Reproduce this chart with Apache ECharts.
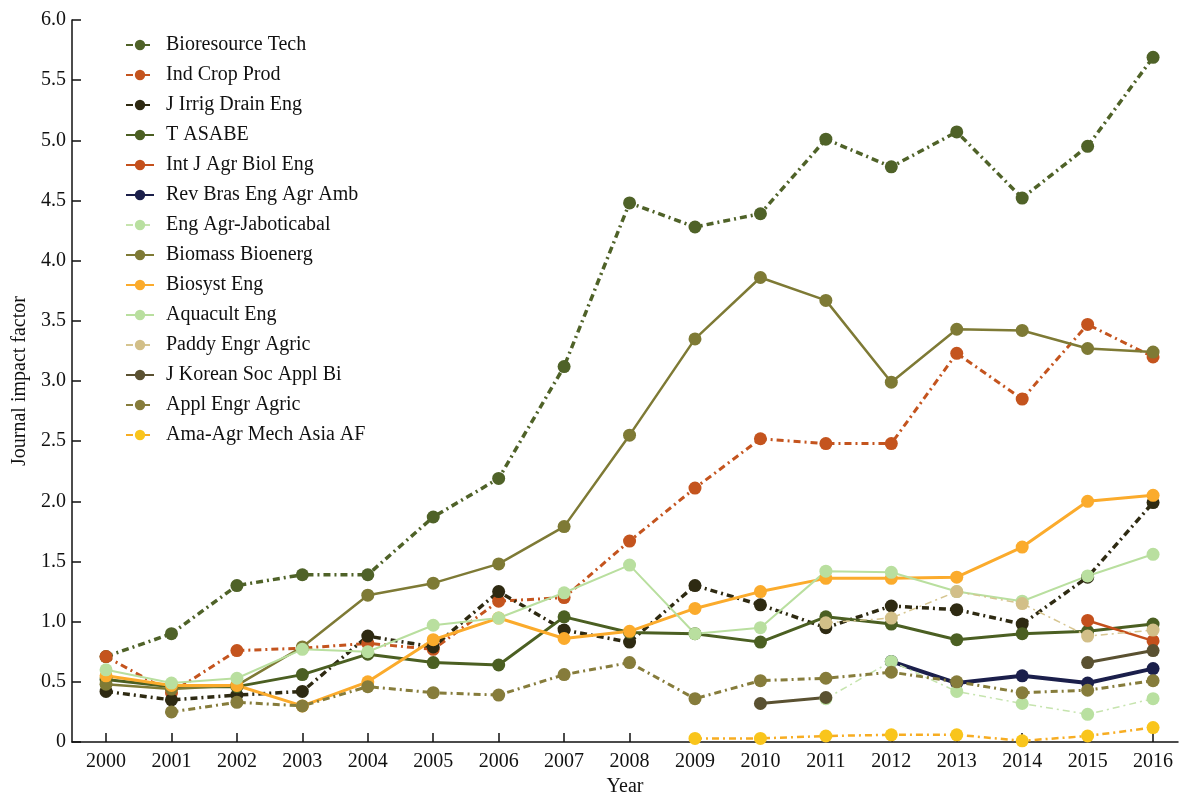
<!DOCTYPE html>
<html><head><meta charset="utf-8">
<script src="https://cdn.jsdelivr.net/npm/echarts@6/dist/echarts.min.js"></script>
<style>html,body{margin:0;padding:0;background:#fff}#c{width:1180px;height:796px}</style>
</head><body><div id="c"></div>
<script>
const years = [2000,2001,2002,2003,2004,2005,2006,2007,2008,2009,2010,2011,2012,2013,2014,2015,2016];
const yTicks = [0,0.5,1,1.5,2,2.5,3,3.5,4,4.5,5,5.5,6];
const bioresourceTech = [0.71,0.90,1.30,1.39,1.39,1.87,2.19,3.12,4.48,4.28,4.39,5.01,4.78,5.07,4.52,4.95,5.69];
const indCropProd     = [0.71,0.41,0.76,0.78,0.82,0.77,1.17,1.20,1.67,2.11,2.52,2.48,2.48,3.23,2.85,3.47,3.20];
const jIrrigDrainEng  = [0.42,0.35,0.39,0.42,0.88,0.79,1.25,0.93,0.83,1.30,1.14,0.95,1.13,1.10,0.98,1.37,1.99];
const tAsabe          = [0.52,0.46,0.46,0.56,0.73,0.66,0.64,1.04,0.91,0.90,0.83,1.04,0.98,0.85,0.90,0.92,0.98];
const intJAgrBiolEng  = [null,null,null,null,null,null,null,null,null,null,null,null,null,null,null,1.01,0.84];
const revBrasEngAgr   = [null,null,null,null,null,null,null,null,null,null,null,null,0.67,0.49,0.55,0.49,0.61];
const engAgrJabot     = [null,null,null,null,null,null,null,null,null,null,null,0.36,0.67,0.42,0.32,0.23,0.36];
const biomassBioenerg = [0.48,0.44,0.47,0.79,1.22,1.32,1.48,1.79,2.55,3.35,3.86,3.67,2.99,3.43,3.42,3.27,3.24];
const biosystEng      = [0.55,0.47,0.47,0.30,0.50,0.85,1.03,0.86,0.92,1.11,1.25,1.36,1.36,1.37,1.62,2.00,2.05];
const aquacultEng     = [0.60,0.49,0.53,0.77,0.75,0.97,1.03,1.24,1.47,0.90,0.95,1.42,1.41,1.25,1.17,1.38,1.56];
const paddyEngrAgric  = [null,null,null,null,null,null,null,null,null,null,null,0.99,1.03,1.25,1.15,0.88,0.93];
const jKoreanSoc      = [null,null,null,null,null,null,null,null,null,null,0.32,0.37,null,null,null,0.66,0.76];
const applEngrAgric   = [null,0.25,0.33,0.30,0.46,0.41,0.39,0.56,0.66,0.36,0.51,0.53,0.58,0.50,0.41,0.43,0.51];
const amaAgrMech      = [null,null,null,null,null,null,null,null,null,0.03,0.03,0.05,0.06,0.06,0.01,0.05,0.12];

const DD = [7,4,2,4];
const defs = [
  ['Bioresource Tech', bioresourceTech, '#4f6228', '#4f6228', 3.5, DD],
  ['Ind Crop Prod', indCropProd, '#c4541e', '#c4541e', 3, DD],
  ['J Irrig Drain Eng', jIrrigDrainEng, '#2e2a12', '#2e2a12', 3.5, DD],
  ['T ASABE', tAsabe, '#4b5f22', '#4b5f22', 3, 'solid'],
  ['Int J Agr Biol Eng', intJAgrBiolEng, '#c4501c', '#c4501c', 2.5, 'solid'],
  ['Rev Bras Eng Agr Amb', revBrasEngAgr, '#1b1f4b', '#1b1f4b', 4, 'solid'],
  ['Eng Agr-Jaboticabal', engAgrJabot, '#c6e4ae', '#b9e0a0', 1.5, DD],
  ['Biomass Bioenerg', biomassBioenerg, '#7e7a35', '#7e7a35', 2.5, 'solid'],
  ['Biosyst Eng', biosystEng, '#fbab2c', '#fbab2c', 3, 'solid'],
  ['Aquacult Eng', aquacultEng, '#b9df9f', '#b9df9f', 2, 'solid'],
  ['Paddy Engr Agric', paddyEngrAgric, '#d6c590', '#d2bf88', 1.5, DD],
  ['J Korean Soc Appl Bi', jKoreanSoc, '#5a5131', '#5a5131', 3, 'solid'],
  ['Appl Engr Agric', applEngrAgric, '#867c3b', '#867c3b', 3, DD],
  ['Ama-Agr Mech Asia AF', amaAgrMech, '#f7ad22', '#f9c51c', 2.5, DD]
];

const series = defs.map(([name, vals, lc, pc, w, t]) => ({
  name, type: 'line',
  data: years.map((y, i) => [y, vals[i] == null ? '-' : vals[i]]),
  symbol: 'circle', symbolSize: 13, showAllSymbol: true,
  connectNulls: false,
  lineStyle: { color: lc, width: w, type: t },
  itemStyle: { color: pc },
  emphasis: { disabled: true },
  animation: false
}));

const xMin = 1999.48, xMax = 2016.381;
const chart = echarts.init(document.getElementById('c'));
chart.setOption({
  animation: false,
  textStyle: { fontFamily: 'Liberation Serif' },
  grid: { left: 72, right: 2, top: 20, bottom: 54, containLabel: false, outerBoundsMode: 'none' },
  legend: {
    orient: 'vertical', left: 120, top: 30,
    itemWidth: 28, itemHeight: 13, itemGap: 10,
    textStyle: { fontFamily: 'Liberation Serif', fontSize: 20, color: '#111', lineHeight: 20, padding: [0, 0, 0, 7] },
    data: defs.map(d => d[0])
  },
  xAxis: {
    type: 'value', min: xMin, max: xMax,
    name: 'Year', nameLocation: 'middle', nameGap: 35,
    nameTextStyle: { fontFamily: 'Liberation Serif', fontSize: 20, color: '#111' },
    axisLine: { show: true, lineStyle: { color: '#111', width: 1.5 } },
    axisTick: { show: true, inside: true, length: 9, lineStyle: { color: '#111', width: 1.5 }, customValues: years },
    axisLabel: { customValues: years, formatter: v => String(Math.round(v)), fontFamily: 'Liberation Serif', fontSize: 20, color: '#111', margin: 10 },
    splitLine: { show: false }
  },
  yAxis: {
    type: 'value', min: 0, max: 6, interval: 0.5,
    name: 'Journal impact factor', nameLocation: 'middle', nameGap: 42, nameRotate: 90,
    nameTextStyle: { fontFamily: 'Liberation Serif', fontSize: 20, color: '#111' },
    axisLine: { show: true, lineStyle: { color: '#111', width: 1.5 } },
    axisTick: { show: true, inside: true, length: 9, lineStyle: { color: '#111', width: 1.5 } },
    axisLabel: { formatter: v => v === 0 ? '0' : v.toFixed(1), fontFamily: 'Liberation Serif', fontSize: 20, color: '#111', margin: 6 },
    splitLine: { show: false }
  },
  series
});
</script>
</body></html>
